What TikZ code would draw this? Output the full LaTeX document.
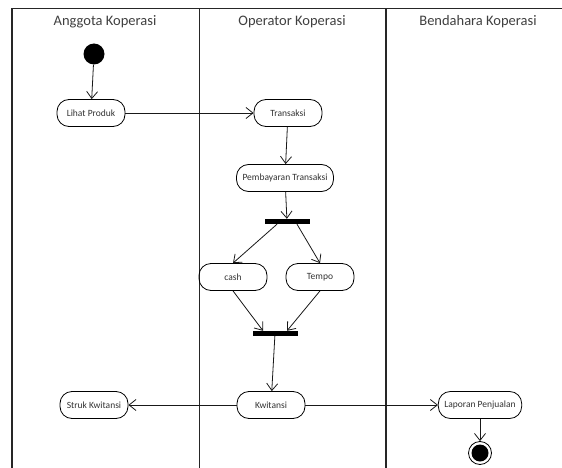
\documentclass[tikz,border=0pt]{standalone}
\usepackage{fontspec}
\setmainfont{Carlito}
\usepackage{tikz}
\usetikzlibrary{positioning,arrows.meta,backgrounds}

\begin{document}
\begin{tikzpicture}[x=1pt,y=-1pt,
        activity/.style={draw,thick,rounded corners=12pt,minimum width=68pt,minimum height=27pt,
            inner xsep=6pt,font=\fontsize{9.5}{11}\selectfont,text=black!80},
        syncbar/.style={fill=black,minimum width=45pt,minimum height=5pt,inner sep=0pt},
        flow/.style={draw,line width=0.8pt,black!90,-{Straight Barb[length=7pt,width=11pt]}},
        lane/.style={draw,line width=1.3pt,black!85},
        lanetitle/.style={font=\fontsize{14.5}{16}\selectfont,text=black!75}]
        \useasboundingbox[fill=white] (0,0) rectangle (562,468);

        %% Swimlanes
        \coordinate (topleft) at (12,8.5);
        \coordinate (topright) at (562,8.5);
        \coordinate (botleft) at (12,468);
        \draw[lane] (topright) -- (topleft) -- (botleft);
        \draw[lane,line width=0.9pt] (199,8.5) -- (199,468);
        \draw[lane] (386,8.5) -- (386,468);

        \node[lanetitle] (anggota) at (105,22) {Anggota Koperasi};
        \node[lanetitle] (operator) at (292,22) {Operator Koperasi};
        \node[lanetitle] (bendahara) at (478,22) {Bendahara Koperasi};

        %% Activities
        \node[circle,fill=black,minimum size=21pt,inner sep=0pt] (start) at (94,54) {};
        \node[activity] (lihat) at (91,113) {Lihat Produk};
        \node[activity] (transaksi) at (288,113) {Transaksi};
        \node[activity] (bayar) at (285,178) {Pembayaran Transaksi};
        \node[syncbar] (fork) at (287,221.5) {};
        \node[activity] (cash) at (233,277) {cash};
        \node[activity] (tempo) at (320,277) {Tempo};
        \node[syncbar] (join) at (275,333.5) {};
        \node[activity] (kwitansi) at (271,405) {Kwitansi};
        \node[activity] (struk) at (94,405) {Struk Kwitansi};
        \node[activity] (laporan) at (480,405) {Laporan Penjualan};
        \node[circle,draw,thick,minimum size=23pt,inner sep=0pt] (finish) at (480,453) {};
        \node[circle,fill=black,minimum size=17pt,inner sep=0pt] at (finish.center) {};

        %% Flows
        \draw[flow] (start) -- (lihat);
        \draw[flow] (lihat) -- (transaksi);
        \draw[flow] (transaksi) -- (bayar);
        \draw[flow] (bayar) -- (fork);
        \draw[flow] ([xshift=-10pt]fork.south) -- (cash.north);
        \draw[flow] ([xshift=10pt]fork.south) -- (tempo.north);
        \draw[flow] (cash.south) -- ([xshift=-12pt]join.north);
        \draw[flow] (tempo.south) -- ([xshift=12pt]join.north);
        \draw[flow] (join) -- (kwitansi);
        \draw[flow] (kwitansi) -- (struk);
        \draw[flow] (kwitansi) -- (laporan);
        \draw[flow] (laporan) -- (finish);
\end{tikzpicture}
\end{document}
